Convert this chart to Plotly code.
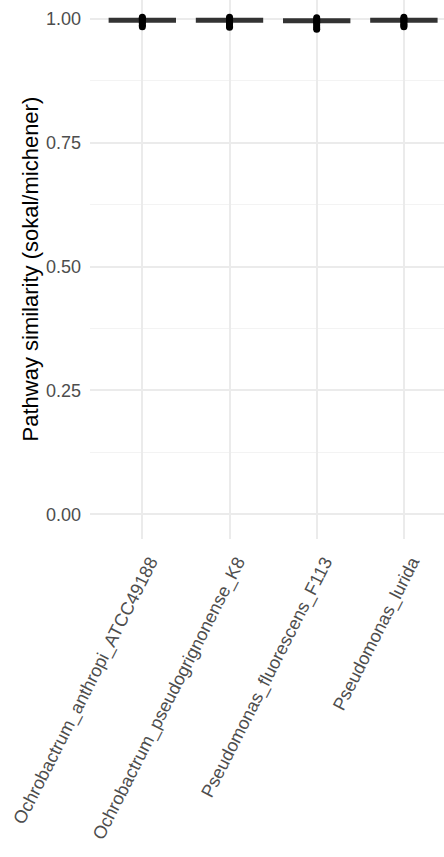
import plotly.graph_objects as go

categories = ["Ochrobactrum_anthropi_ATCC49188",
              "Ochrobactrum_pseudogrignonense_K8",
              "Pseudomonas_fluorescens_F113",
              "Pseudomonas_lurida"]

# box statistics (collapsed near 1.0)
q1 = [0.994, 0.994, 0.993, 0.994]
median = [0.997, 0.997, 0.996, 0.997]
q3 = [1.000, 1.000, 0.999, 1.000]
lowerfence = [0.991, 0.991, 0.990, 0.991]
upperfence = [1.000, 1.000, 1.000, 1.000]

# individual points (read from the dark blobs)
points = [
    [1.003, 1.001, 0.999, 0.996, 0.993, 0.990, 0.987, 0.984],
    [1.003, 1.000, 0.997, 0.994, 0.991, 0.988, 0.985, 0.983],
    [1.002, 0.999, 0.996, 0.993, 0.990, 0.986, 0.982, 0.979],
    [1.003, 1.000, 0.998, 0.995, 0.992, 0.989, 0.986, 0.984],
]

y_ticks = [0.0, 0.25, 0.5, 0.75, 1.0]
y_ticktext = ["0.00", "0.25", "0.50", "0.75", "1.00"]

FONT = "Liberation Sans, Arial, sans-serif"

fig = go.Figure()
for i, c in enumerate(categories):
    fig.add_trace(go.Box(
        x=[c], q1=[q1[i]], median=[median[i]], q3=[q3[i]],
        lowerfence=[lowerfence[i]], upperfence=[upperfence[i]],
        width=0.75, fillcolor="#333333",
        line=dict(color="#333333", width=2),
        whiskerwidth=0, boxpoints=False, showlegend=False,
    ))
    fig.add_trace(go.Scatter(
        x=[c] * len(points[i]), y=points[i], mode="markers",
        marker=dict(color="black", size=7, line=dict(width=0)),
        showlegend=False, hoverinfo="y",
    ))

fig.update_layout(
    width=444, height=857,
    margin=dict(l=90, r=0, t=0, b=318, autoexpand=False),
    paper_bgcolor="white", plot_bgcolor="white",
    font=dict(family=FONT, size=18, color="#4D4D4D"),
    showlegend=False,
)
fig.update_xaxes(
    type="category", categoryorder="array", categoryarray=categories,
    range=[-0.6, 3.46], automargin=False,
    showgrid=True, gridcolor="#EBEBEB", gridwidth=2,
    zeroline=False, showline=False, ticks="",
    tickangle=-63, ticklabelstandoff=8, ticklabelshift=8,
    tickfont=dict(size=18, color="#4D4D4D", family=FONT),
)
fig.update_yaxes(
    range=[-0.05, 1.038], automargin=False,
    tickvals=y_ticks, ticktext=y_ticktext,
    showgrid=True, gridcolor="#EBEBEB", gridwidth=2,
    minor=dict(dtick=0.125, tick0=0, showgrid=True, gridcolor="#F3F3F3", gridwidth=1),
    zeroline=False, showline=False, ticks="",
    ticklabelstandoff=8,
    tickfont=dict(size=18, color="#4D4D4D", family=FONT),
)
fig.add_annotation(
    text="Pathway similarity (sokal/michener)",
    xref="paper", yref="paper", x=(30 - 90) / 354, y=0.5,
    xanchor="center", yanchor="middle", textangle=-90, showarrow=False,
    font=dict(family=FONT, size=22, color="black"),
)

fig.write_html("out.html")
